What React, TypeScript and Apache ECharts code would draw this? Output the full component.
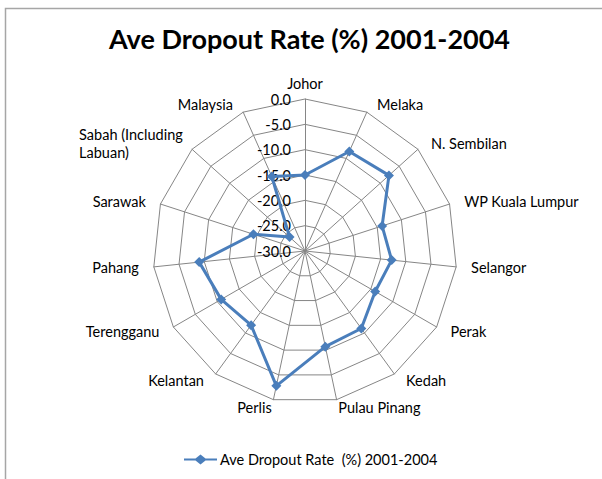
import React, { useEffect, useRef } from "react";
import * as echarts from "echarts";

const categories = [
  "Johor",
  "Melaka",
  "N. Sembilan",
  "WP Kuala Lumpur",
  "Selangor",
  "Perak",
  "Kedah",
  "Pulau Pinang",
  "Perlis",
  "Kelantan",
  "Terengganu",
  "Pahang",
  "Sarawak",
  "Sabah (Including Labuan)",
  "Malaysia",
];

const dropoutRates = [
  -15.0, -8.5, -7.7, -14.0, -12.8, -14.0, -11.1, -10.7, -2.8, -11.9, -10.9, -9.0,
  -19.3, -25.9, -13.9,
];

const seriesName = "Ave Dropout Rate  (%) 2001-2004";
const titleText = "Ave Dropout Rate (%) 2001-2004";
const axisMin = -30;
const axisMax = 0;

const FONT = "Lato";

export default function App() {
  const ref = useRef<HTMLDivElement>(null);

  useEffect(() => {
    if (!ref.current) return;
    const chart = echarts.init(ref.current, undefined, { renderer: "svg" });

    // ECharts radar runs counter-clockwise; reorder so the categories run clockwise.
    const order = [0, ...categories.slice(1).map((_, i) => categories.length - 1 - i)];
    const indicator = order.map((idx, k) => {
      const ind: any = { name: categories[idx], min: axisMin, max: axisMax };
      if (k === 0) {
        ind.axisLabel = { show: true };
      }
      return ind;
    });
    const values = order.map((idx) => dropoutRates[idx]);

    chart.setOption({
      animation: false,
      backgroundColor: "#ffffff",
      title: {
        text: titleText,
        left: 104,
        top: 20,
        textStyle: {
          fontFamily: FONT,
          fontWeight: "bold",
          fontSize: 27,
          color: "#000000",
        },
      },
      legend: {
        bottom: 7,
        left: 179,
        itemWidth: 33,
        itemHeight: 10,
        icon: "path://M0,4 L11.5,4 L16.5,0 L21.5,4 L33,4 L33,6 L21.5,6 L16.5,10 L11.5,6 L0,6 Z",
        itemGap: 4,
        textStyle: { fontFamily: FONT, fontSize: 14.5, color: "#000000", padding: [0, 0, 0, -2] },
        data: [seriesName],
      },
      graphic: [
        {
          type: "rect",
          shape: { x: 5.5, y: 8.5, width: 800, height: 700 },
          style: { fill: "none", stroke: "#a6a6a6", lineWidth: 1.5 },
          silent: true,
          z: -1,
        },
      ],
      radar: {
        center: [305, 251],
        radius: 152,
        startAngle: 90,
        splitNumber: 6,
        shape: "polygon",
        indicator,
        nameGap: 8,
        axisName: {
          color: "#000000",
          fontFamily: FONT,
          fontSize: 14.5,
          formatter: (name: string) => {
            if (name === "Sabah (Including Labuan)") {
              return "{a|Sabah (Including}\n{a|Labuan)}";
            }
            if (name === "Perlis" || name === "Pulau Pinang") {
              return "{b|" + name + "}";
            }
            return "{s|" + name + "}";
          },
          rich: {
            a: {
              width: 100,
              align: "left",
              fontFamily: FONT,
              fontSize: 14.5,
              color: "#000000",
              lineHeight: 18,
              padding: [0, 7],
            },
            s: {
              fontFamily: FONT,
              fontSize: 14.5,
              color: "#000000",
              padding: [0, 7],
            },
            b: {
              fontFamily: FONT,
              fontSize: 14.5,
              color: "#000000",
              padding: [0, 0],
            },
          },
        },
        axisLine: { lineStyle: { color: "#868686", width: 1 } },
        splitLine: { lineStyle: { color: "#868686", width: 1 } },
        splitArea: { show: false },
        axisTick: { show: false },
        axisLabel: {
          show: false,
          color: "#000000",
          fontFamily: FONT,
          fontSize: 14.5,
          margin: 14,
          formatter: (v: number) => Number(v).toFixed(1),
        },
      },
      series: [
        {
          type: "radar",
          name: seriesName,
          symbol: "diamond",
          symbolSize: 10,
          lineStyle: { color: "#4A7EBB", width: 3 },
          itemStyle: { color: "#4A7EBB" },
          data: [{ value: values, name: seriesName }],
        },
      ],
    });

    return () => chart.dispose();
  }, []);

  return (
    <div
      ref={ref}
      style={{ position: "absolute", left: 0, top: 0, width: 602, height: 479 }}
    />
  );
}
